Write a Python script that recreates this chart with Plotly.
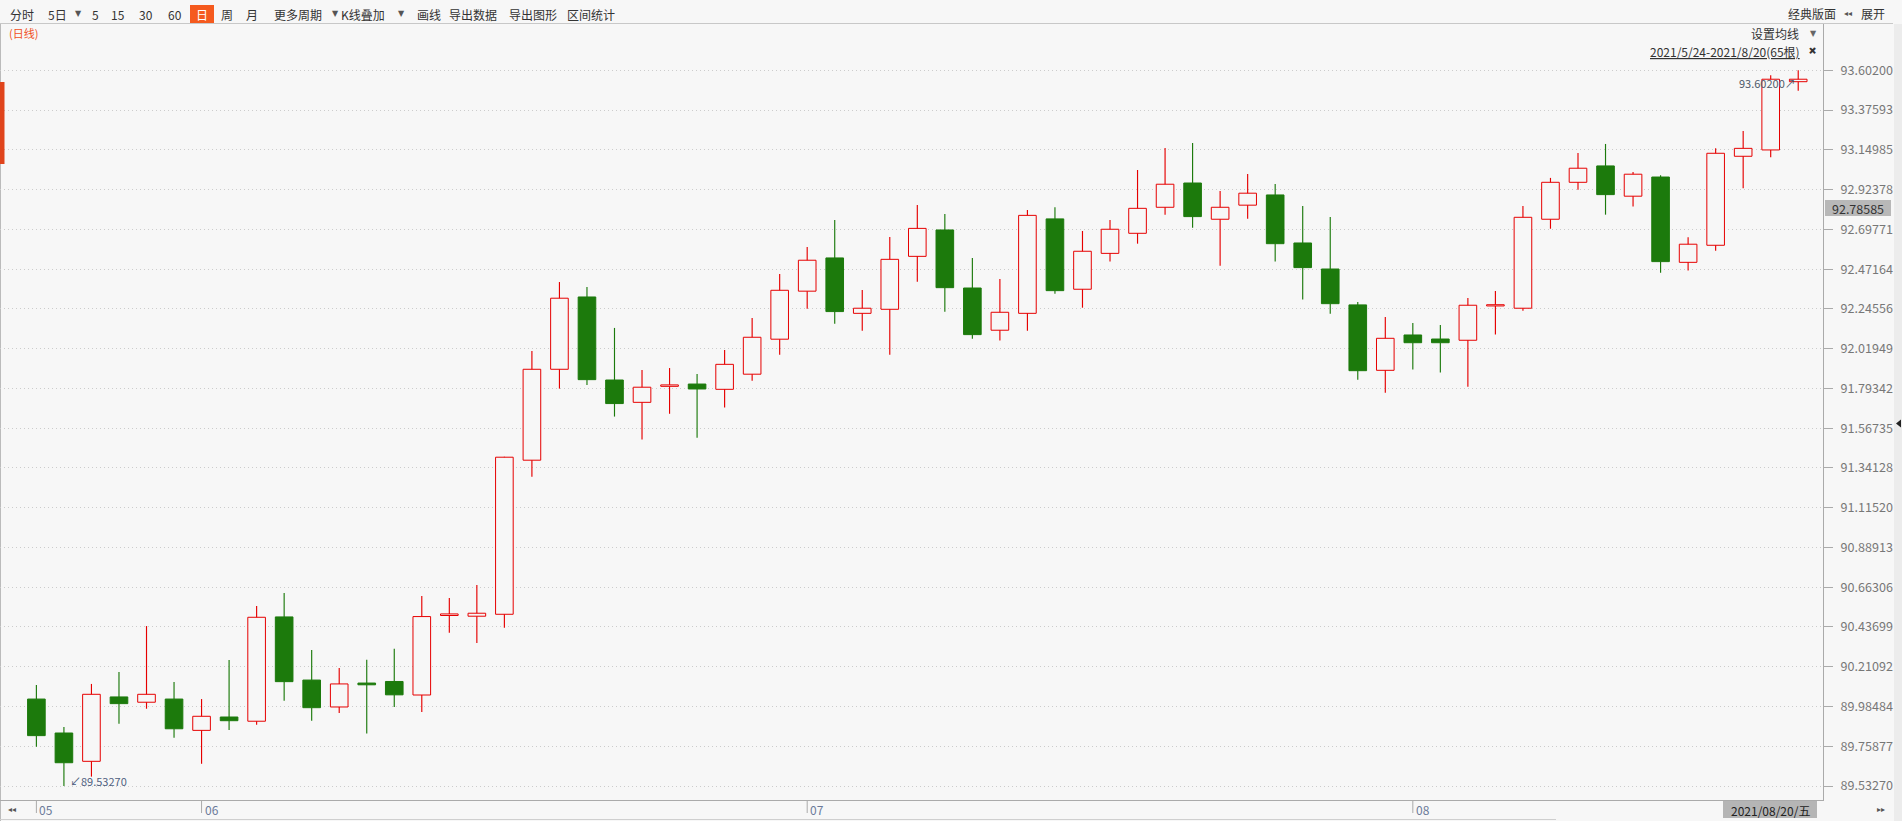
import plotly.graph_objects as go

# ---------------- data ----------------
dates = [
    "2021-05-24", "2021-05-25", "2021-05-26", "2021-05-27", "2021-05-28",
    "2021-05-31", "2021-06-01", "2021-06-02", "2021-06-03", "2021-06-04",
    "2021-06-07", "2021-06-08", "2021-06-09", "2021-06-10", "2021-06-11",
    "2021-06-14", "2021-06-15", "2021-06-16", "2021-06-17", "2021-06-18",
    "2021-06-21", "2021-06-22", "2021-06-23", "2021-06-24", "2021-06-25",
    "2021-06-28", "2021-06-29", "2021-06-30", "2021-07-01", "2021-07-02",
    "2021-07-05", "2021-07-06", "2021-07-07", "2021-07-08", "2021-07-09",
    "2021-07-12", "2021-07-13", "2021-07-14", "2021-07-15", "2021-07-16",
    "2021-07-19", "2021-07-20", "2021-07-21", "2021-07-22", "2021-07-23",
    "2021-07-26", "2021-07-27", "2021-07-28", "2021-07-29", "2021-07-30",
    "2021-08-02", "2021-08-03", "2021-08-04", "2021-08-05", "2021-08-06",
    "2021-08-09", "2021-08-10", "2021-08-11", "2021-08-12", "2021-08-13",
    "2021-08-16", "2021-08-17", "2021-08-18", "2021-08-19", "2021-08-20",
]

opens = [
    90.027, 89.834, 89.673, 90.039, 90.009, 90.027, 89.849, 89.925, 89.901, 90.494,
    90.135, 89.982, 90.118, 90.127, 90.050, 90.502, 90.498, 90.509, 91.385, 91.902,
    92.313, 91.841, 91.714, 91.805, 91.818, 91.788, 91.874, 92.073, 92.346, 92.535,
    92.220, 92.243, 92.544, 92.694, 92.364, 92.124, 92.220, 92.757, 92.357, 92.561,
    92.675, 92.823, 92.961, 92.755, 92.835, 92.893, 92.620, 92.472, 92.268, 91.896,
    92.097, 92.074, 92.067, 92.262, 92.249, 92.755, 92.965, 93.058, 92.886, 92.995,
    92.510, 92.607, 93.113, 93.149, 93.537,
]
highs = [
    90.107, 89.868, 90.113, 90.181, 90.442, 90.124, 90.027, 90.249, 90.556, 90.630,
    90.306, 90.203, 90.251, 90.313, 90.613, 90.602, 90.676, 91.405, 92.006, 92.398,
    92.370, 92.137, 91.898, 91.909, 91.875, 92.012, 92.194, 92.444, 92.597, 92.751,
    92.353, 92.654, 92.836, 92.785, 92.535, 92.415, 92.808, 92.823, 92.688, 92.751,
    93.035, 93.160, 93.189, 92.916, 93.012, 92.956, 92.830, 92.768, 92.285, 92.199,
    92.165, 92.154, 92.307, 92.347, 92.830, 92.990, 93.132, 93.183, 93.024, 93.005,
    92.652, 93.158, 93.257, 93.574, 93.602,
]
lows = [
    89.756, 89.5327, 89.586, 89.887, 89.972, 89.807, 89.659, 89.851, 89.881, 90.018,
    89.904, 89.948, 89.831, 89.982, 89.953, 90.404, 90.346, 90.433, 91.291, 91.792,
    91.813, 91.633, 91.502, 91.649, 91.513, 91.684, 91.837, 91.985, 92.246, 92.161,
    92.121, 91.985, 92.400, 92.229, 92.076, 92.065, 92.121, 92.332, 92.252, 92.514,
    92.616, 92.781, 92.707, 92.491, 92.758, 92.514, 92.298, 92.218, 91.843, 91.769,
    91.900, 91.883, 91.803, 92.099, 92.235, 92.701, 92.923, 92.781, 92.827, 92.451,
    92.463, 92.576, 92.931, 93.107, 93.486,
]
closes = [
    89.819, 89.665, 90.054, 90.001, 90.054, 89.858, 89.929, 89.904, 90.492, 90.126,
    89.978, 90.113, 90.108, 90.051, 90.496, 90.511, 90.515, 91.402, 91.902, 92.306,
    91.843, 91.707, 91.800, 91.813, 91.790, 91.930, 92.084, 92.351, 92.522, 92.230,
    92.249, 92.527, 92.703, 92.366, 92.099, 92.226, 92.777, 92.349, 92.573, 92.698,
    92.817, 92.954, 92.770, 92.823, 92.903, 92.616, 92.480, 92.275, 91.894, 92.078,
    92.053, 92.053, 92.266, 92.269, 92.766, 92.965, 93.045, 92.895, 93.011, 92.514,
    92.613, 93.130, 93.158, 93.551, 93.551,
]

ytick_vals = [89.53270, 89.75877, 89.98484, 90.21092, 90.43699, 90.66306, 90.88913,
              91.11520, 91.34128, 91.56735, 91.79342, 92.01949, 92.24556, 92.47164,
              92.69771, 92.92378, 93.14985, 93.37593, 93.60200]
ytick_text = ["89.53270", "89.75877", "89.98484", "90.21092", "90.43699", "90.66306",
              "90.88913", "91.11520", "91.34128", "91.56735", "91.79342", "92.01949",
              "92.24556", "92.47164", "92.69771", "92.92378", "93.14985", "93.37593",
              "93.60200"]

toolbar_labels = ["分时", "5日", "▼", "5", "15", "30", "60", "日", "周", "月",
                  "更多周期", "▼", "K线叠加", "▼", "画线", "导出数据", "导出图形", "区间统计"]
range_label = "2021/5/24-2021/8/20(65根)"
last_date_label = "2021/08/20/五"
cursor_value_label = "92.78585"
max_label = "93.60200"
min_label = "89.53270"

# ---------------- styling ----------------
FONT = "Noto Sans CJK SC, Microsoft YaHei, sans-serif"
RED = "#e60000"
GREEN = "#1c7a0c"
BG = "#f7f7f7"
W, H = 1902, 821
PL, PR, PT, PB = 0, 1823, 24, 800   # plot area in pixels


def px(x):
    return (x - PL) / (PR - PL)


def py(y):
    return (PB - y) / (PB - PT)


n = len(dates)
up = [c >= o for o, c in zip(opens, closes)]
body_base = [min(o, c) for o, c in zip(opens, closes)]
body_h = [abs(c - o) for o, c in zip(opens, closes)]
body_fill = [BG if u else GREEN for u in up]
body_line = [RED if u else GREEN for u in up]

fig = go.Figure()


def wick_trace(want_up, color):
    xs, ys = [], []
    for d, o, h, l, c, u in zip(dates, opens, highs, lows, closes, up):
        if u != want_up:
            continue
        xs += [d, d, None, d, d, None]
        ys += [max(o, c), h, None, min(o, c), l, None]
    return go.Scatter(x=xs, y=ys, mode="lines", line=dict(color=color, width=1.15),
                      hoverinfo="skip", showlegend=False, connectgaps=False)


fig.add_trace(wick_trace(True, RED))
fig.add_trace(wick_trace(False, GREEN))
fig.add_trace(go.Bar(x=dates, y=body_h, base=body_base, width=0.64,
                     marker=dict(color=body_fill, line=dict(color=body_line, width=1)),
                     hoverinfo="skip", showlegend=False))

annotations = []
shapes = []


def txt(text, x, y, size=12, color="#333", xanchor="center", family=FONT, **kw):
    annotations.append(dict(text=text, x=px(x), y=py(y), xref="paper", yref="paper",
                            showarrow=False, xanchor=xanchor, yanchor="middle",
                            font=dict(size=size, color=color, family=family), **kw))


def rect(x0, y0, x1, y1, fill, layer="below"):
    shapes.append(dict(type="rect", xref="paper", yref="paper",
                       x0=px(x0), x1=px(x1), y0=py(y1), y1=py(y0),
                       fillcolor=fill, line=dict(width=0), layer=layer))


def hline(x0, x1, y, color="#c8c8c8"):
    shapes.append(dict(type="line", xref="paper", yref="paper",
                       x0=px(x0), x1=px(x1), y0=py(y), y1=py(y),
                       line=dict(color=color, width=1)))


def vline(x, y0, y1, color="#aaa"):
    shapes.append(dict(type="line", xref="paper", yref="paper",
                       x0=px(x), x1=px(x), y0=py(y0), y1=py(y1),
                       line=dict(color=color, width=1), layer="below"))


# --- top toolbar ---
toolbar_x = [22, 57, 78, 95, 118, 146, 175, 202, 227, 252, 298, 335, 363, 401, 429, 473, 533, 591]
rect(190, 5, 214, 23, "#f55a1e")
for lab, x in zip(toolbar_labels, toolbar_x):
    if lab == "▼":
        txt(lab, x, 13, size=8, color="#555", family="DejaVu Sans")
    elif lab == "日":
        txt(lab, x, 14, size=12, color="#ffffff")
    else:
        txt(lab, x, 14, size=12, color="#333")
hline(0, 1893, 23.5)
txt("经典版面", 1812, 13, size=12, color="#333")
txt("◂◂", 1848, 13, size=8, color="#555", family="DejaVu Sans")
txt("展开", 1873, 13, size=12, color="#333")

txt("(日线)", 23, 33, size=11, color="#f0501e")
txt("设置均线", 1775, 34, size=12, color="#333")
txt("▼", 1813, 34, size=8, color="#666", family="DejaVu Sans")
txt("<u>" + range_label + "</u>", 1725, 52, size=12, color="#333")
txt("✚", 1812, 51, size=10, color="#333", family="DejaVu Sans", textangle=45)

# left decorations
vline(0.5, 24, 821, color="#bbb")
rect(0, 82, 4.5, 164, "#e0441c", layer="above")

# right scrollbar strip and marker
rect(1894, 24, 1902, 821, "#ececec")
shapes.append(dict(type="path", xref="paper", yref="paper",
                   path=f"M {px(1896)},{py(423.5)} L {px(1901)},{py(419.5)} L {px(1901)},{py(427.5)} Z",
                   fillcolor="#222", line=dict(width=0)))

# cursor value label on axis
rect(1825, 200, 1891, 216, "#b8b8b8")
txt(cursor_value_label, 1858, 208, size=12.5, color="#333")

# bottom axis month labels
prev_month = None
for i, d in enumerate(dates):
    m = d[5:7]
    if m != prev_month:
        prev_month = m
        shapes.append(dict(type="line", xref="x", yref="paper", x0=i, x1=i,
                           y0=py(801), y1=py(813), line=dict(color="#aaa", width=1)))
        annotations.append(dict(text=m, x=i, y=py(809), xref="x", yref="paper",
                                xanchor="left", yanchor="middle", xshift=1, showarrow=False,
                                font=dict(size=12, color="#6b7a99", family=FONT)))

txt("◂◂", 12, 809, size=8, color="#555", family="DejaVu Sans")
txt("▸▸", 1881, 809, size=8, color="#555", family="DejaVu Sans")
rect(1723, 801, 1817, 818, "#b5b5b5")
txt(last_date_label, 1770, 810, size=12, color="#222")
hline(0, 1556, 819.5, color="#cfcfcf")

# min / max labels
i_max = max(range(n), key=lambda k: highs[k])
i_min = min(range(n), key=lambda k: lows[k])
annotations.append(dict(text=max_label + "↗", x=dates[i_max], y=highs[i_max], xref="x", yref="y",
                        xanchor="right", yanchor="middle", xshift=0, yshift=-13, showarrow=False,
                        font=dict(size=11, color="#505a6a", family=FONT)))
annotations.append(dict(text="↙" + min_label, x=dates[i_min], y=lows[i_min], xref="x", yref="y",
                        xanchor="left", yanchor="middle", xshift=4, yshift=5, showarrow=False,
                        font=dict(size=11, color="#4f5f80", family=FONT)))

fig.update_layout(
    width=W, height=H,
    margin=dict(l=PL, r=W - PR, t=PT, b=H - PB, pad=0),
    paper_bgcolor=BG, plot_bgcolor=BG,
    showlegend=False, barmode="overlay",
    xaxis=dict(type="category", categoryorder="array", categoryarray=dates,
               range=[-1.322, 64.9], showgrid=False, showticklabels=False, ticks="",
               showline=True, linecolor="#aaa", linewidth=1, zeroline=False, fixedrange=True),
    yaxis=dict(side="right", range=[89.4531, 93.865], tickmode="array",
               tickvals=ytick_vals, ticktext=ytick_text,
               ticks="outside", ticklen=9, tickcolor="#aaa", tickwidth=1,
               ticklabelstandoff=5,
               showline=True, linecolor="#aaa", linewidth=1,
               showgrid=True, gridcolor="#cccccc", griddash="1px,3px", gridwidth=1,
               zeroline=False, fixedrange=True,
               tickfont=dict(size=12.6, color="#777", family=FONT)),
    annotations=annotations,
    shapes=shapes,
    hovermode=False,
)

fig.write_html("out.html", config={"displayModeBar": False},
               post_script="document.body.style.margin='0px';")
